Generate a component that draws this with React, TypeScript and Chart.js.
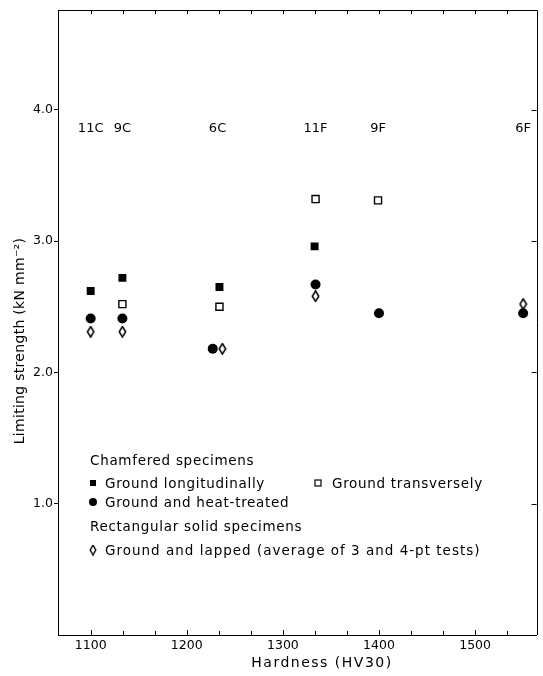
import React, { useEffect, useRef } from "react";
import { Chart, registerables } from "chart.js";

Chart.register(...registerables);

// ---- data ----
const specimenNames = ["11C", "9C", "6C", "11F", "9F", "6F"];
const specimenHardness = [1100, 1133, 1232, 1334, 1399, 1550];

const longitudinalHardness = [1100, 1133, 1234, 1333];
const longitudinalStrength = [2.62, 2.72, 2.65, 2.96];

const transverseHardness = [1133, 1234, 1334, 1399];
const transverseStrength = [2.52, 2.5, 3.32, 3.31];

const heatTreatedHardness = [1100, 1133, 1227, 1334, 1400, 1550];
const heatTreatedStrength = [2.41, 2.41, 2.18, 2.67, 2.45, 2.45];

const lappedHardness = [1100, 1133, 1237, 1334, 1550];
const lappedStrength = [2.31, 2.31, 2.18, 2.58, 2.52];

const xTickValues = [1100, 1200, 1300, 1400, 1500];
const yTickValues = [1, 2, 3, 4];

const X_MIN = 1066;
const X_MAX = 1564;
const Y_MIN = 0;
const Y_MAX = 4.76;
const LABEL_ROW_VALUE = 3.87;

const FONT = "'DejaVu Sans'";

function toPoints(xs: number[], ys: number[]) {
  return xs.map((x, i) => ({ x, y: ys[i] }));
}

function makeDiamond(w: number, h: number, lw: number) {
  const c = document.createElement("canvas");
  c.width = w;
  c.height = h;
  const g = c.getContext("2d")!;
  g.fillStyle = "#fff";
  g.strokeStyle = "#000";
  g.lineWidth = lw;
  g.beginPath();
  g.moveTo(w / 2, lw / 2);
  g.lineTo(w - lw / 2 - 0.5, h / 2);
  g.lineTo(w / 2, h - lw / 2);
  g.lineTo(lw / 2 + 0.5, h / 2);
  g.closePath();
  g.fill();
  g.stroke();
  return c;
}

export default function App() {
  const ref = useRef<HTMLCanvasElement>(null);

  useEffect(() => {
    document.body.style.margin = "0";
    const diamond = makeDiamond(9, 12, 1.5);
    const legendDiamond = makeDiamond(8, 11, 1.4);

    const decorPlugin = {
      id: "decor",
      afterDraw(chart: any) {
        const ctx: CanvasRenderingContext2D = chart.ctx;
        const xs = chart.scales.x;
        const ys = chart.scales.y;
        const { left, right, top, bottom } = chart.chartArea;
        ctx.save();
        ctx.strokeStyle = "#000";
        ctx.fillStyle = "#000";
        ctx.lineWidth = 1;

        // frame: top and right
        ctx.beginPath();
        ctx.moveTo(left, Math.round(top) + 0.5);
        ctx.lineTo(Math.round(right) + 0.5, Math.round(top) + 0.5);
        ctx.lineTo(Math.round(right) + 0.5, bottom);
        ctx.stroke();

        // x ticks (inward) on bottom and top, every 100/3
        ctx.beginPath();
        for (let k = -3; k <= 16; k++) {
          const v = 1100 + (k * 100) / 3;
          if (v <= xs.min + 1 || v >= xs.max - 1) continue;
          const px = Math.round(xs.getPixelForValue(v)) + 0.5;
          const len = k % 3 === 0 ? 5 : 4;
          ctx.moveTo(px, bottom);
          ctx.lineTo(px, bottom - len);
          ctx.moveTo(px, top);
          ctx.lineTo(px, top + 4);
        }
        // right ticks
        for (const v of yTickValues) {
          const py = Math.round(ys.getPixelForValue(v)) + 0.5;
          ctx.moveTo(right, py);
          ctx.lineTo(right - 5, py);
        }
        ctx.stroke();

        // specimen labels
        ctx.font = `13px ${FONT}`;
        ctx.textAlign = "center";
        ctx.textBaseline = "alphabetic";
        const ly = ys.getPixelForValue(LABEL_ROW_VALUE) + 5;
        specimenNames.forEach((n, i) => {
          ctx.fillText(n, xs.getPixelForValue(specimenHardness[i]), ly);
        });

        // legend
        ctx.textAlign = "left";
        ctx.font = `13.5px ${FONT}`;
        (ctx as any).letterSpacing = "0.7px";
        ctx.fillText("Chamfered specimens", left + 32, 465);
        ctx.fillRect(left + 32, 480, 6, 6);
        ctx.fillText("Ground longitudinally", left + 47, 488);
        ctx.fillStyle = "#fff";
        ctx.fillRect(left + 257, 480, 6, 6);
        ctx.lineWidth = 1.2;
        ctx.strokeRect(left + 257, 480, 6, 6);
        ctx.fillStyle = "#000";
        ctx.fillText("Ground transversely", left + 274, 488);
        ctx.beginPath();
        ctx.arc(left + 35, 502, 4, 0, Math.PI * 2);
        ctx.fill();
        ctx.fillText("Ground and heat-treated", left + 47, 507);
        ctx.fillText("Rectangular solid specimens", left + 32, 531);
        ctx.drawImage(legendDiamond, left + 35 - 4, 550 - 5.5);
        (ctx as any).letterSpacing = "1px";
        ctx.fillText("Ground and lapped (average of 3 and 4-pt tests)", left + 47, 555);

        // x title
        ctx.font = `14px ${FONT}`;
        (ctx as any).letterSpacing = "1.5px";
        ctx.textAlign = "center";
        ctx.textBaseline = "middle";
        ctx.fillText("Hardness (HV30)", left + 264, 663);

        // y title
        (ctx as any).letterSpacing = "0.3px";
        ctx.save();
        ctx.translate(20, 341);
        ctx.rotate(-Math.PI / 2);
        ctx.fillText("Limiting strength (kN mm\u207B\u00B2)", 0, 0);
        ctx.restore();

        ctx.restore();
      },
    };

    const chart = new Chart(ref.current!, {
      type: "scatter",
      data: {
        datasets: [
          {
            label: "Ground longitudinally",
            data: toPoints(longitudinalHardness, longitudinalStrength),
            pointStyle: "rect",
            pointRadius: 5.6,
            backgroundColor: "#000",
            borderColor: "#000",
            borderWidth: 0,
          },
          {
            label: "Ground transversely",
            data: toPoints(transverseHardness, transverseStrength),
            pointStyle: "rect",
            pointRadius: 5.0,
            backgroundColor: "#fff",
            borderColor: "#000",
            borderWidth: 1.4,
          },
          {
            label: "Ground and heat-treated",
            data: toPoints(heatTreatedHardness, heatTreatedStrength),
            pointStyle: "circle",
            pointRadius: 5,
            backgroundColor: "#000",
            borderColor: "#000",
            borderWidth: 0,
          },
          {
            label: "Ground and lapped",
            data: toPoints(lappedHardness, lappedStrength),
            pointStyle: diamond as any,
            pointRadius: 5,
            backgroundColor: "#fff",
            borderColor: "#000",
            borderWidth: 0,
          },
        ],
      },
      options: {
        responsive: false,
        animation: false,
        events: [],
        layout: { padding: { top: 10, right: 3, left: 0, bottom: 0 } },
        plugins: {
          legend: { display: false },
          tooltip: { enabled: false },
        },
        scales: {
          x: {
            type: "linear",
            min: X_MIN,
            max: X_MAX,
            afterBuildTicks: (s: any) => {
              s.ticks = xTickValues.map((v) => ({ value: v }));
            },
            afterFit: (s: any) => {
              s.height = 41;
            },
            ticks: {
              color: "#000",
              font: { family: FONT, size: 12.5 },
              padding: 3,
              maxRotation: 0,
              autoSkip: false,
              callback: (v: any) => String(v),
            },
            grid: { display: false, drawTicks: false },
            border: { display: true, color: "#000", width: 1 },
          },
          y: {
            type: "linear",
            min: Y_MIN,
            max: Y_MAX,
            afterBuildTicks: (s: any) => {
              s.ticks = yTickValues.map((v) => ({ value: v }));
            },
            afterFit: (s: any) => {
              s.width = 58;
            },
            ticks: {
              color: "#000",
              font: { family: FONT, size: 12.5 },
              padding: 1,
              autoSkip: false,
              callback: (v: any) => Number(v).toFixed(1),
            },
            grid: {
              display: true,
              drawOnChartArea: false,
              drawTicks: true,
              tickLength: 4,
              color: "#000",
            },
            border: { display: true, color: "#000", width: 1 },
          },
        },
      },
      plugins: [decorPlugin],
    } as any);

    return () => chart.destroy();
  }, []);

  return (
    <div style={{ width: 543, height: 676, background: "#fff" }}>
      <canvas ref={ref} width={543} height={676} style={{ display: "block" }} />
    </div>
  );
}
